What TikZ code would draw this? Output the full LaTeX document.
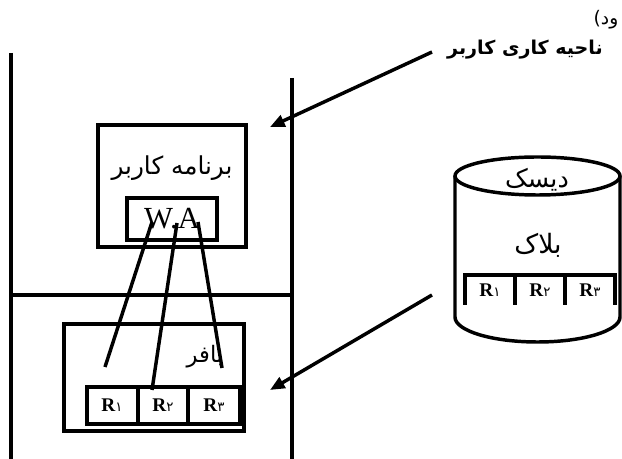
\documentclass[tikz,border=0pt]{standalone}
\usepackage{fontspec}
\setmainfont{Liberation Serif}
\newfontfamily\arabicfont[Script=Arabic]{DejaVu Sans}
\TeXXeTstate=1
\usetikzlibrary{arrows.meta}
\newcommand{\fa}[1]{{\arabicfont\beginR #1\endR}}
\newcommand{\reclab}[1]{{\fontsize{14.5}{14.5}\selectfont\bfseries R}{\arabicfont\fontsize{10}{10}\selectfont #1}}
\tikzset{
  pointer/.style={line width=2.6pt, -{Triangle[length=11pt,width=9pt]}},
  thinbox/.style={line width=2.4pt},
  cell/.style={line width=3pt}
}
\begin{document}
\begin{tikzpicture}[x=0.75pt,y=-0.75pt,line width=2.6pt]
\useasboundingbox (0,0) rectangle (622,459);
\draw (11,53) -- (11,459);
\draw (292,78) -- (292,459);
\draw (11,295) -- (292,295);
\draw (98,125) rectangle (246,247);
\node (prog) at (172,168) {\fontsize{18.5}{18.5}\selectfont\fa{برنامه کاربر}};
\draw (127,198) rectangle (217,240);
\node (wa) at (172,219) {\fontsize{23}{23}\selectfont W.A};
\draw[thinbox] (64,324) rectangle (244,431);
\node (buf) at (205,357) {\fontsize{17}{17}\selectfont\fa{بافر}};
\draw[cell] (87,387) rectangle (240,424);
\foreach \x in {138,188}
\draw[cell] (\x,387) -- (\x,424);
\foreach \d/\x [count=\i] in {۱/112,۲/163,۳/214}
\node (b\i) at (\x,405) {\reclab{\d}};
\coordinate (w1) at (152,222);
\coordinate (w2) at (177,223);
\coordinate (w3) at (198,222);
\coordinate (r1) at (105,367);
\coordinate (r2) at (152,390);
\coordinate (r3) at (222,368);
\foreach \i in {1,2,3}
\draw (w\i) -- (r\i);
\draw (537.5,176) ellipse (82.5 and 19);
\draw (455,176) -- (455,317) arc[start angle=180, end angle=0, x radius=82.5, y radius=25] -- (620,176);
\node (disk) at (537,180) {\fontsize{19}{19}\selectfont\fa{دیسک}};
\node (block) at (538,245) {\fontsize{20}{20}\selectfont\fa{بلاک}};
\draw[cell] (465,305) -- (465,275) -- (615,275) -- (615,305);
\foreach \x in {515,565}
\draw[cell] (\x,275) -- (\x,305);
\foreach \d/\x [count=\i] in {۱/490,۲/540,۳/590}
\node (d\i) at (\x,290) {\reclab{\d}};
\coordinate (s1) at (432,52);
\coordinate (t1) at (270,127);
\coordinate (s2) at (432,295);
\coordinate (t2) at (270,390);
\draw[pointer] (s1) -- (t1);
\draw[pointer] (s2) -- (t2);
\node (area) at (525,50) {\fontsize{14.3}{14.3}\selectfont\bfseries\fa{ناحیه کاری کاربر}};
\node (frag) at (606,20) {\fontsize{14}{14}\selectfont{\arabicfont ود)}};
\end{tikzpicture}
\end{document}
